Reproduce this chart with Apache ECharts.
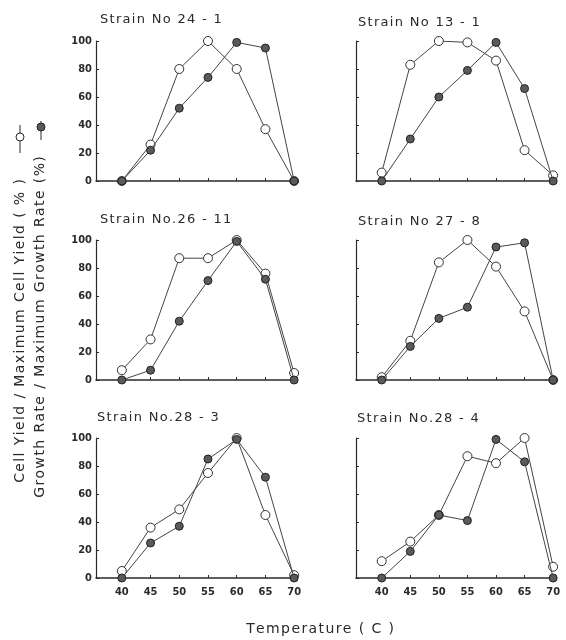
<!DOCTYPE html>
<html>
<head>
<meta charset="utf-8">
<script src="https://cdn.jsdelivr.net/npm/echarts@6/dist/echarts.min.js"></script>
<style>html,body{margin:0;background:#fff}#main{width:566px;height:640px}</style>
</head>
<body>
<div id="main"></div>
<script>
var temps = [40, 45, 50, 55, 60, 65, 70];
var strainNames = ['Strain No 24 - 1', 'Strain No 13 - 1', 'Strain No.26 - 11', 'Strain No 27 - 8', 'Strain No.28 - 3', 'Strain No.28 - 4'];

// open circles: cell yield / max cell yield (%)
// filled circles: growth rate / max growth rate (%)
var yield24_1 = [0, 26, 80, 100, 80, 37, 0];
var growth24_1 = [0, 22, 52, 74, 99, 95, 0];
var yield13_1 = [6, 83, 100, 99, 86, 22, 4];
var growth13_1 = [0, 30, 60, 79, 99, 66, 0];
var yield26_11 = [7, 29, 87, 87, 100, 76, 5];
var growth26_11 = [0, 7, 42, 71, 99, 72, 0];
var yield27_8 = [2, 28, 84, 100, 81, 49, 0];
var growth27_8 = [0, 24, 44, 52, 95, 98, 0];
var yield28_3 = [5, 36, 49, 75, 100, 45, 2];
var growth28_3 = [0, 25, 37, 85, 99, 72, 0];
var yield28_4 = [12, 26, 45, 87, 82, 100, 8];
var growth28_4 = [0, 19, 45, 41, 99, 83, 0];

var yields = [yield24_1, yield13_1, yield26_11, yield27_8, yield28_3, yield28_4];
var growths = [growth24_1, growth13_1, growth26_11, growth27_8, growth28_3, growth28_4];

var colLeft = [96, 356];
var colWidth = [201, 200];
var rowTop = [41, 240, 438];
var titlePos = [[100, 13], [358, 16], [100, 213], [358, 215], [97, 411], [357, 412]];

var ink = '#2a2a2a';
var numFont = 'DejaVu Sans Condensed';

// the scanned lettering is loosely spaced
function spaced(s) { return s.split('').join('\u200A'); }

var grids = [], xAxes = [], yAxes = [], series = [], titles = [];

function pairs(arr) {
  return temps.map(function(t, k) { return [t, arr[k]]; });
}

for (var i = 0; i < 6; i++) {
  var col = i % 2, row = Math.floor(i / 2);
  grids.push({ left: colLeft[col], width: colWidth[col], top: rowTop[row], height: 140 });
  titles.push({
    text: spaced(strainNames[i]), left: titlePos[i][0], top: titlePos[i][1], padding: 0,
    textStyle: { fontFamily: 'DejaVu Sans', fontSize: 13, fontWeight: 'normal', color: ink }
  });
  xAxes.push({
    type: 'value', gridIndex: i, min: 35.5, max: 70.5,
    axisLine: { show: true, onZero: false, lineStyle: { color: ink, width: 1.5 } },
    axisTick: { show: true, inside: true, length: 3, customValues: temps, lineStyle: { color: ink } },
    axisLabel: {
      show: row === 2, customValues: temps, margin: 9,
      fontFamily: numFont, fontWeight: 'bold', fontSize: 11, color: ink
    },
    splitLine: { show: false }
  });
  yAxes.push({
    type: 'value', gridIndex: i, min: 0, max: 100, interval: 20,
    axisLine: { show: true, onZero: false, lineStyle: { color: ink, width: 1.2 } },
    axisTick: { show: true, inside: true, length: 3, lineStyle: { color: ink } },
    axisLabel: {
      show: col === 0, margin: 4,
      fontFamily: numFont, fontWeight: 'bold', fontSize: 11, color: ink
    },
    splitLine: { show: false }
  });
  series.push({
    type: 'line', xAxisIndex: i, yAxisIndex: i, data: pairs(yields[i]),
    symbol: 'circle', symbolSize: 9, z: 2,
    lineStyle: { color: '#444', width: 1 },
    itemStyle: { color: '#fff', borderColor: '#333', borderWidth: 1 }
  });
  series.push({
    type: 'line', xAxisIndex: i, yAxisIndex: i, data: pairs(growths[i]),
    symbol: 'circle', symbolSize: 8, z: 3,
    lineStyle: { color: '#444', width: 1 },
    itemStyle: { color: '#5a5a5a', borderColor: '#222', borderWidth: 1 }
  });
}

var chart = echarts.init(document.getElementById('main'));
chart.setOption({
  backgroundColor: '#fff',
  animation: false,
  title: titles,
  grid: grids,
  xAxis: xAxes,
  yAxis: yAxes,
  series: series,
  graphic: [
    { type: 'text', x: 20, y: 331, rotation: Math.PI / 2,
      style: { text: spaced('Cell Yield / Maximum Cell Yield ( % )'), font: '14px "DejaVu Sans"', fill: ink, align: 'center', verticalAlign: 'middle' } },
    { type: 'text', x: 40, y: 327, rotation: Math.PI / 2,
      style: { text: spaced('Growth Rate / Maximum Growth Rate (%)'), font: '14px "DejaVu Sans"', fill: ink, align: 'center', verticalAlign: 'middle' } },
    { type: 'line', shape: { x1: 20, y1: 125, x2: 20, y2: 153 }, style: { stroke: ink, lineWidth: 1 } },
    { type: 'circle', shape: { cx: 20, cy: 137, r: 4 }, style: { fill: '#fff', stroke: ink, lineWidth: 1 } },
    { type: 'line', shape: { x1: 41, y1: 121, x2: 41, y2: 140 }, style: { stroke: ink, lineWidth: 1 } },
    { type: 'circle', shape: { cx: 41, cy: 127, r: 4 }, style: { fill: '#5a5a5a', stroke: '#222', lineWidth: 1 } },
    { type: 'text', x: 320, y: 629,
      style: { text: spaced('Temperature ( C )'), font: '14px "DejaVu Sans"', fill: ink, align: 'center', verticalAlign: 'middle' } }
  ]
});
</script>
</body>
</html>
